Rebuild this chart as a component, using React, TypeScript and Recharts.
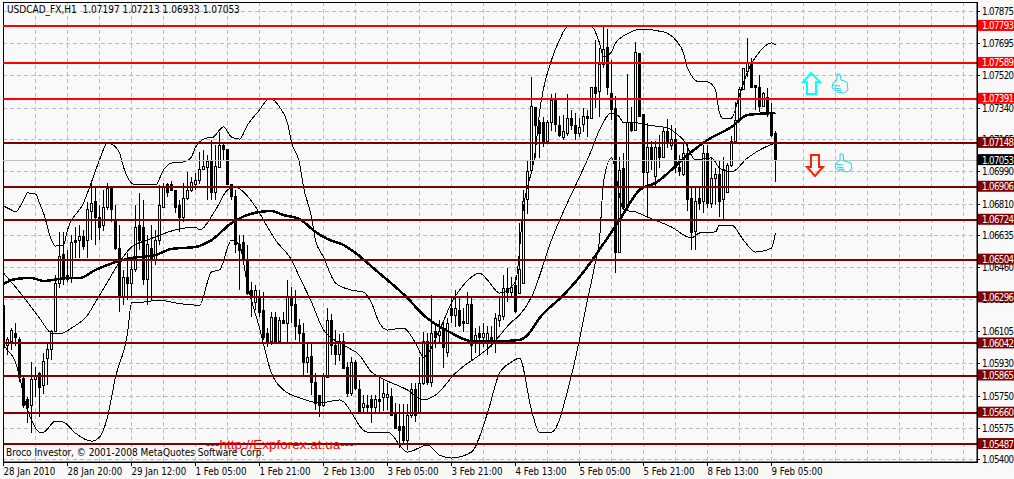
import React from "react";
import { ComposedChart, Bar, Line, XAxis, YAxis, CartesianGrid, ReferenceLine, ReferenceArea } from "recharts";

const symbolText = "USDCAD_FX,H1  1.07197 1.07213 1.06933 1.07053";
const copyrightText = "Broco Investor, © 2001-2008 MetaQuotes Software Corp.";
const siteText = "---http://Expforex.at.ua---";

const timeLabels = [
  "28 Jan 2010", "28 Jan 20:00", "29 Jan 12:00", "1 Feb 05:00", "1 Feb 21:00", "2 Feb 13:00", "3 Feb 05:00",
  "3 Feb 21:00", "4 Feb 13:00", "5 Feb 05:00", "5 Feb 21:00", "8 Feb 13:00", "9 Feb 05:00",
];

const priceTicks = [
  1.07875, 1.07695, 1.0752, 1.0734, 1.07165, 1.0699, 1.0681, 1.06635, 1.0646, 1.06285, 1.06105, 1.0593, 1.0575,
  1.05575, 1.054,
];

const redLevels = [1.07793, 1.07589, 1.07391];
const maroonLevels = [1.07148, 1.06906, 1.06724, 1.06504, 1.06296, 1.06042, 1.05865, 1.0566, 1.05487];
const lastPrice = 1.07053;

const opens = [
  1.06253, 1.06028, 1.06055, 1.06099, 1.06066, 1.05851, 1.05735, 1.05697, 1.05845, 1.05878,
  1.05812, 1.05961, 1.06011, 1.0611, 1.06375, 1.0653, 1.06414, 1.06403, 1.06612, 1.06612,
  1.06634, 1.06612, 1.06772, 1.06822, 1.06734, 1.06695, 1.06794, 1.06905, 1.06723, 1.06568,
  1.06298, 1.06403, 1.06375, 1.06447, 1.06695, 1.06679, 1.06392, 1.06568, 1.06502, 1.06612,
  1.06794, 1.06916, 1.06916, 1.06883, 1.068, 1.06739, 1.06839, 1.06883, 1.06921, 1.06938,
  1.06999, 1.0701, 1.07043, 1.06877, 1.0701, 1.07131, 1.07114, 1.06921, 1.0685, 1.06585,
  1.06596, 1.06502, 1.06336, 1.06265, 1.06292, 1.06226, 1.06099, 1.06055, 1.06187, 1.06055,
  1.06171, 1.06154, 1.06303, 1.06259, 1.06143, 1.06099, 1.05939, 1.05972, 1.05829, 1.05757,
  1.05702, 1.05856, 1.06171, 1.06033, 1.05983, 1.06055, 1.05911, 1.05768, 1.05939, 1.0579,
  1.05686, 1.05702, 1.0573, 1.05686, 1.05735, 1.05741, 1.05746, 1.05752, 1.05658, 1.05586,
  1.05586, 1.05509, 1.05647, 1.0579, 1.05658, 1.05823, 1.0605, 1.05829, 1.06105, 1.06083,
  1.06116, 1.05994, 1.06237, 1.06198, 1.06226, 1.06165, 1.06154, 1.06259, 1.06044, 1.06094,
  1.06077, 1.06044, 1.06077, 1.0605, 1.06171, 1.06193, 1.06347, 1.06325, 1.06364, 1.0632,
  1.06375, 1.06833, 1.06993, 1.07341, 1.07263, 1.07263, 1.07158, 1.07258, 1.0739, 1.07246,
  1.0718, 1.07202, 1.07285, 1.07246, 1.07202, 1.07252, 1.07291, 1.07285, 1.07456, 1.07429,
  1.07578, 1.07672, 1.07418, 1.07335, 1.06546, 1.07004, 1.068, 1.07263, 1.07219, 1.07639,
  1.07302, 1.06982, 1.0712, 1.0696, 1.07125, 1.0707, 1.07213, 1.07136, 1.07169, 1.0701,
  1.06971, 1.07087, 1.06839, 1.06657, 1.06839, 1.06822, 1.07092, 1.06816, 1.06954, 1.06971,
  1.06833, 1.06877, 1.07026, 1.07153, 1.07274, 1.07445, 1.07539, 1.07588, 1.07467, 1.07456,
  1.07346, 1.07401, 1.07313, 1.07197,
];

const highs = [
  1.06253, 1.06077, 1.06127, 1.06154, 1.06077, 1.05856, 1.05746, 1.05939, 1.05911, 1.05884,
  1.05988, 1.0605, 1.06116, 1.06419, 1.06657, 1.06657, 1.06557, 1.0664, 1.06684, 1.06695,
  1.06668, 1.06822, 1.06943, 1.06905, 1.06805, 1.06888, 1.06927, 1.06905, 1.06805, 1.06695,
  1.06447, 1.06541, 1.06502, 1.06805, 1.06872, 1.06833, 1.0664, 1.06695, 1.06668, 1.06916,
  1.06927, 1.06927, 1.06938, 1.06883, 1.06833, 1.06927, 1.06988, 1.0696, 1.06982, 1.07098,
  1.07109, 1.07081, 1.07164, 1.07136, 1.07208, 1.07147, 1.07114, 1.06921, 1.06888, 1.0664,
  1.0664, 1.06585, 1.06381, 1.06364, 1.06336, 1.06325, 1.06127, 1.06215, 1.06215, 1.06187,
  1.06215, 1.06392, 1.06353, 1.06336, 1.06176, 1.06154, 1.06044, 1.06044, 1.05878, 1.05757,
  1.05878, 1.06237, 1.06204, 1.06116, 1.06094, 1.06099, 1.05939, 1.05967, 1.0595, 1.0584,
  1.05757, 1.05757, 1.05757, 1.05757, 1.05862, 1.05845, 1.05823, 1.05796, 1.05713, 1.05708,
  1.05708, 1.05708, 1.05823, 1.05823, 1.05967, 1.06105, 1.06099, 1.06309, 1.06154, 1.06171,
  1.06165, 1.06182, 1.06298, 1.06336, 1.06292, 1.06237, 1.06325, 1.06292, 1.06127, 1.06138,
  1.06154, 1.06138, 1.06138, 1.06209, 1.06303, 1.06419, 1.06458, 1.06408, 1.06408, 1.06706,
  1.06888, 1.07054, 1.07512, 1.07346, 1.07274, 1.07291, 1.07274, 1.07418, 1.07423, 1.07296,
  1.07302, 1.07418, 1.0733, 1.07313, 1.07285, 1.07341, 1.0733, 1.07456, 1.07716, 1.07672,
  1.07788, 1.07776, 1.07605, 1.07407, 1.0707, 1.07092, 1.07528, 1.07346, 1.07705, 1.07639,
  1.07302, 1.07258, 1.07158, 1.07158, 1.07191, 1.0723, 1.0728, 1.07246, 1.0723, 1.07081,
  1.07147, 1.07147, 1.06899, 1.06899, 1.06899, 1.07136, 1.07136, 1.0707, 1.0701, 1.07054,
  1.0707, 1.07037, 1.07186, 1.07374, 1.07456, 1.07561, 1.07727, 1.07616, 1.07467, 1.07522,
  1.07429, 1.07451, 1.07368, 1.07213,
];

const lows = [
  1.05994, 1.05977, 1.06005, 1.06028, 1.05829, 1.05686, 1.05602, 1.05547, 1.05746, 1.05636,
  1.05763, 1.05812, 1.0595, 1.06105, 1.06347, 1.06364, 1.06381, 1.06375, 1.06513, 1.06513,
  1.06557, 1.06513, 1.06612, 1.06585, 1.06612, 1.06662, 1.06778, 1.06712, 1.06557, 1.06215,
  1.06253, 1.06281, 1.06292, 1.06436, 1.06557, 1.06364, 1.06253, 1.06281, 1.06474, 1.06585,
  1.06789, 1.0685, 1.06888, 1.06761, 1.06657, 1.06712, 1.06833, 1.06877, 1.06888, 1.06921,
  1.06999, 1.06833, 1.06833, 1.06833, 1.0701, 1.07054, 1.06916, 1.06833, 1.06541, 1.06336,
  1.06491, 1.06309, 1.06187, 1.06226, 1.06187, 1.06061, 1.06022, 1.06033, 1.06044, 1.06044,
  1.06154, 1.06044, 1.06154, 1.06061, 1.06044, 1.05867, 1.05878, 1.05757, 1.05674, 1.05636,
  1.05691, 1.05856, 1.05977, 1.05922, 1.05944, 1.05906, 1.05746, 1.05752, 1.05785, 1.05658,
  1.05658, 1.05658, 1.05602, 1.05658, 1.05658, 1.05669, 1.05674, 1.05641, 1.05575, 1.05465,
  1.05493, 1.05454, 1.0563, 1.05608, 1.05658, 1.05812, 1.05812, 1.05801, 1.06017, 1.06044,
  1.05906, 1.05967, 1.06154, 1.06132, 1.06132, 1.06105, 1.06154, 1.0595, 1.05988, 1.05977,
  1.06022, 1.05977, 1.06022, 1.05988, 1.06132, 1.06171, 1.0627, 1.06298, 1.06209, 1.0632,
  1.06375, 1.06756, 1.06993, 1.07065, 1.07065, 1.07125, 1.07147, 1.07213, 1.07208, 1.0718,
  1.07164, 1.07186, 1.07219, 1.07164, 1.0718, 1.07208, 1.0718, 1.07285, 1.07341, 1.07291,
  1.07561, 1.07412, 1.07274, 1.0643, 1.06546, 1.06778, 1.06778, 1.07208, 1.07219, 1.07296,
  1.06905, 1.06745, 1.06999, 1.06905, 1.0701, 1.07065, 1.0712, 1.07109, 1.06982, 1.06965,
  1.06965, 1.06772, 1.06557, 1.06557, 1.06778, 1.06761, 1.06789, 1.06789, 1.06805, 1.06739,
  1.06723, 1.06872, 1.07015, 1.07147, 1.07263, 1.0744, 1.07512, 1.07451, 1.0733, 1.07319,
  1.07346, 1.07291, 1.0718, 1.06933,
];

const closes = [
  1.06022, 1.06066, 1.06116, 1.06077, 1.05856, 1.05702, 1.05686, 1.05845, 1.05867, 1.05801,
  1.05944, 1.06011, 1.0611, 1.0637, 1.06524, 1.06397, 1.06397, 1.06596, 1.06596, 1.06634,
  1.06579, 1.06778, 1.06816, 1.06734, 1.06679, 1.06789, 1.06899, 1.06778, 1.06568, 1.06298,
  1.06403, 1.06375, 1.06447, 1.06684, 1.06612, 1.06392, 1.06585, 1.06502, 1.06612, 1.068,
  1.06905, 1.06877, 1.06888, 1.06794, 1.06739, 1.06839, 1.06883, 1.06927, 1.06943, 1.06999,
  1.07015, 1.07043, 1.06872, 1.07015, 1.07131, 1.07109, 1.06916, 1.0685, 1.06585, 1.06557,
  1.06513, 1.0632, 1.06303, 1.06336, 1.06215, 1.06077, 1.06055, 1.06187, 1.0605, 1.06171,
  1.06154, 1.06303, 1.06253, 1.06138, 1.06099, 1.05939, 1.05967, 1.05829, 1.05713, 1.05697,
  1.05867, 1.06171, 1.06033, 1.05983, 1.06055, 1.05906, 1.05768, 1.05939, 1.05796, 1.05664,
  1.05708, 1.05686, 1.05686, 1.0573, 1.05724, 1.05768, 1.05763, 1.05647, 1.05575, 1.05564,
  1.05509, 1.05647, 1.0579, 1.05647, 1.05823, 1.0605, 1.05829, 1.06099, 1.06077, 1.0611,
  1.06017, 1.06154, 1.06198, 1.06237, 1.06143, 1.06154, 1.06259, 1.06033, 1.06088, 1.06077,
  1.06099, 1.06099, 1.06044, 1.06182, 1.06198, 1.06347, 1.06325, 1.06353, 1.0622, 1.06447,
  1.06827, 1.06988, 1.07346, 1.07246, 1.07202, 1.07158, 1.07258, 1.07379, 1.07252, 1.07186,
  1.07213, 1.07285, 1.07246, 1.07202, 1.07235, 1.07291, 1.07285, 1.07451, 1.07423, 1.07578,
  1.07661, 1.07451, 1.0733, 1.06546, 1.06993, 1.06794, 1.07263, 1.07219, 1.07644, 1.07296,
  1.06982, 1.0712, 1.07054, 1.0712, 1.07065, 1.07213, 1.07147, 1.07169, 1.0701, 1.06988,
  1.07087, 1.06833, 1.06651, 1.06822, 1.06816, 1.07087, 1.06811, 1.06954, 1.06971, 1.06827,
  1.06999, 1.07026, 1.07153, 1.07274, 1.07445, 1.07556, 1.07588, 1.07456, 1.07456, 1.07346,
  1.07423, 1.07302, 1.07186, 1.07053,
];

// [bar number, price] read where each curve bends
const upperBand = [
  [0, 1.068], [2, 1.06778], [3, 1.06767], [5, 1.06833], [6, 1.06872], [8, 1.06866], [9, 1.06816], [10, 1.06761],
  [12, 1.06612], [13, 1.06579], [15, 1.06585], [16, 1.06668], [20, 1.06816], [22, 1.06932], [24, 1.07054],
  [26, 1.07147], [27, 1.07142], [29, 1.07092], [30, 1.07015], [33, 1.06916], [38, 1.06916], [40, 1.06999],
  [42, 1.07037], [45, 1.07043], [47, 1.0707], [48, 1.07125], [51, 1.07175], [52, 1.07175], [55, 1.07236],
  [57, 1.0718], [59, 1.07169], [61, 1.07246], [64, 1.0733], [66, 1.07385], [67, 1.0739], [69, 1.07346],
  [71, 1.07258], [72, 1.07153], [74, 1.07037], [75, 1.06905], [77, 1.06739], [78, 1.06612], [80, 1.06518],
  [83, 1.06375], [87, 1.06336], [90, 1.06325], [92, 1.06265], [94, 1.06154], [96, 1.06116], [100, 1.06127],
  [103, 1.06044], [105, 1.05967], [109, 1.06116], [112, 1.06265], [114, 1.06336], [117, 1.06408], [119, 1.0643],
  [121, 1.06392], [124, 1.0632], [128, 1.06381], [130, 1.06794], [133, 1.07109], [134, 1.07313], [137, 1.07605],
  [139, 1.07716], [141, 1.07788], [147, 1.07788], [149, 1.07699], [150, 1.07622], [152, 1.0765], [153, 1.07699],
  [157, 1.0776], [159, 1.07776], [165, 1.0776], [168, 1.07716], [170, 1.07644], [171, 1.07561], [174, 1.07484],
  [176, 1.07484], [178, 1.0744], [179, 1.07313], [180, 1.0728], [182, 1.07285], [184, 1.07412], [186, 1.07539],
  [189, 1.0765], [192, 1.07699], [193, 1.07688],
];

const middleBand = [
  [0, 1.0643], [3, 1.06353], [6, 1.0627], [9, 1.06182], [12, 1.06099], [14, 1.06094], [17, 1.06127], [21, 1.06198],
  [23, 1.0627], [26, 1.06381], [29, 1.06491], [32, 1.06574], [36, 1.06612], [43, 1.06668], [48, 1.06684],
  [49, 1.06668], [53, 1.06778], [56, 1.06888], [58, 1.06905], [60, 1.06877], [64, 1.06761], [66, 1.06684],
  [68, 1.06612], [72, 1.06502], [74, 1.06408], [77, 1.0627], [80, 1.06116], [85, 1.06033], [89, 1.05977],
  [92, 1.05884], [94, 1.05856], [101, 1.05785], [105, 1.0573], [108, 1.05757], [113, 1.05878], [122, 1.06033],
  [127, 1.0616], [129, 1.06198], [132, 1.06298], [137, 1.06612], [147, 1.07109], [149, 1.07219], [152, 1.07313],
  [154, 1.07291], [155, 1.07258], [157, 1.07263], [161, 1.07246], [166, 1.0723], [168, 1.07202], [170, 1.07164],
  [173, 1.07054], [177, 1.07065], [179, 1.0701], [182, 1.06988], [186, 1.07065], [190, 1.0712], [193, 1.07147],
];

const lowerBand = [
  [0, 1.06033], [1, 1.06005], [3, 1.05939], [4, 1.05856], [6, 1.05674], [7, 1.05619], [9, 1.05553], [10, 1.05553],
  [13, 1.05614], [15, 1.05608], [18, 1.05547], [22, 1.05503], [24, 1.05525], [26, 1.05636], [28, 1.05856],
  [31, 1.06099], [32, 1.06265], [35, 1.0627], [39, 1.06281], [43, 1.06265], [49, 1.06253], [52, 1.06436],
  [54, 1.06447], [57, 1.06612], [59, 1.06585], [61, 1.06364], [64, 1.06127], [67, 1.05878], [70, 1.05785],
  [75, 1.05735], [79, 1.05713], [84, 1.0573], [91, 1.05553], [96, 1.05553], [101, 1.05443], [106, 1.05481],
  [109, 1.05426], [112, 1.0541], [117, 1.05443], [121, 1.05658], [124, 1.05878], [127, 1.05939], [129, 1.05961],
  [132, 1.05674], [134, 1.05553], [137, 1.05553], [142, 1.05867], [146, 1.06281], [148, 1.06491], [149, 1.06612],
  [150, 1.06932], [152, 1.07065], [155, 1.06778], [158, 1.06767], [161, 1.06739], [167, 1.06684], [172, 1.06624],
  [174, 1.06651], [178, 1.06657], [179, 1.06695], [182, 1.06695], [185, 1.06612], [188, 1.06546], [192, 1.06568],
  [193, 1.06651],
];

const movingAverage = [
  [0, 1.0637], [3, 1.06397], [7, 1.06403], [10, 1.06386], [16, 1.06403], [19, 1.06403], [23, 1.06447], [29, 1.06497],
  [32, 1.06513], [38, 1.0653], [42, 1.06563], [48, 1.06574], [52, 1.06612], [57, 1.06706], [64, 1.06767],
  [67, 1.06772], [70, 1.0675], [74, 1.06728], [78, 1.06657], [81, 1.06618], [85, 1.06585], [88, 1.06541],
  [93, 1.06447], [101, 1.06292], [105, 1.06198], [112, 1.06099], [117, 1.06055], [124, 1.06055], [129, 1.06061],
  [131, 1.06088], [134, 1.06182], [140, 1.06309], [144, 1.06408], [151, 1.06624], [154, 1.06723], [159, 1.06888],
  [163, 1.06927], [171, 1.07081], [176, 1.07164], [182, 1.07236], [186, 1.07302], [193, 1.07313],
];

const lookup = (knots: number[][]) => new Map(knots.map(([bar, price]) => [bar, price]));
const upperByBar = lookup(upperBand);
const middleByBar = lookup(middleBand);
const lowerByBar = lookup(lowerBand);
const maByBar = lookup(movingAverage);

const chartData = opens.map((open, bar) => ({
  bar,
  open,
  high: highs[bar],
  low: lows[bar],
  close: closes[bar],
  upper: upperByBar.get(bar) ?? null,
  middle: middleByBar.get(bar) ?? null,
  lower: lowerByBar.get(bar) ?? null,
  ma: maByBar.get(bar) ?? null,
}));

const barsPerLabel = 16;
const barsPerGridLine = 8;
const gridBars = Array.from({ length: 31 }, (_, k) => k * barsPerGridLine);
const labelBars = timeLabels.map((_, k) => k * barsPerLabel);

const levelColor = new Map<number, string>([
  ...redLevels.map((v) => [v, "#ff0000"] as [number, string]),
  ...maroonLevels.map((v) => [v, "#800000"] as [number, string]),
  [lastPrice, "#000000"],
]);

const font = '"DejaVu Sans Condensed", "Liberation Sans", Arial, sans-serif';
const axisX = 977;
const axisY = 462;

function Candle(props: any) {
  const { x, y, width, height, payload } = props;
  const cx = Math.floor(x + width / 2) + 0.5;
  const perPrice = height / (payload.high - payload.low || 1);
  const top = y + (payload.high - Math.max(payload.open, payload.close)) * perPrice;
  const bottom = y + (payload.high - Math.min(payload.open, payload.close)) * perPrice;
  const up = payload.close >= payload.open;
  return (
    <g shapeRendering="crispEdges">
      <line x1={cx} x2={cx} y1={y} y2={y + height} stroke="#000" />
      <rect x={cx - 1} y={top} width={2} height={Math.max(bottom - top, 1)} fill={up ? "#fff" : "#000"} stroke="#000" />
    </g>
  );
}

function PriceTick({ y, payload }: any) {
  const color = levelColor.get(payload.value);
  if (color) {
    return (
      <g>
        <rect x={axisX + 1} y={y - 6} width={40} height={11} fill={color} />
        <text x={axisX + 5} y={y + 3.5} fontSize={9.6} letterSpacing={-0.6} fontFamily={font} fill="#fff">
          {payload.value.toFixed(5)}
        </text>
      </g>
    );
  }
  return (
    <g>
      <line x1={axisX} x2={axisX + 3} y1={y} y2={y} stroke="#000" shapeRendering="crispEdges" />
      <text x={axisX + 5} y={y + 3.5} fontSize={9.6} letterSpacing={-0.6} fontFamily={font} fill="#000">
        {payload.value.toFixed(5)}
      </text>
    </g>
  );
}

function TimeTick({ x, payload }: any) {
  return (
    <g>
      <line x1={x} x2={x} y1={axisY} y2={axisY + 4} stroke="#000" shapeRendering="crispEdges" />
      <text x={x} y={axisY + 13} fontSize={9.6} fontFamily={font} fill="#000">
        {timeLabels[payload.value / barsPerLabel]}
      </text>
    </g>
  );
}

function Annotations() {
  return (
    <svg width={1014} height={479} style={{ position: "absolute", left: 0, top: 0, pointerEvents: "none" }}>
      <path d="M811 73 L820 82 L816 82 L816 94 L807 94 L807 82 L803 82 Z" fill="none" stroke="#00ffff" strokeWidth={2} />
      <path d="M811 155 L819 155 L819 167 L823 167 L815 176 L807 167 L811 167 Z" fill="none" stroke="#ff2000" strokeWidth={2} />
      <g fill="none" stroke="#20d8e8" strokeWidth={1}>
        <path d="M837 74 L840 74 L841 80 L847 82 L848 90 L844 93 L837 92 L832 88 L833 83 L837 80 Z" />
        <path d="M833 85 L840 86 M834 88 L841 89 M836 90 L842 91" />
        <path d="M840 154 L843 154 L844 161 L851 163 L852 169 L848 172 L841 171 L835 168 L836 163 L840 160 Z" />
        <path d="M836 164 L843 165 M837 167 L844 168 M839 169 L845 170" />
      </g>
    </svg>
  );
}

const overlayText: React.CSSProperties = {
  position: "absolute",
  fontFamily: font,
  whiteSpace: "pre",
  pointerEvents: "none",
};

export default function App() {
  return (
    <div style={{ position: "absolute", left: 0, top: 0, width: 1014, height: 479, overflow: "hidden", background: "#f9f9f9" }}>
      <ComposedChart width={1014} height={479} data={chartData} margin={{ top: 2, right: 0, bottom: 0, left: 3 }}>
        <CartesianGrid
          stroke="#bdbdbd"
          strokeDasharray="4 3"
          horizontalValues={priceTicks}
          verticalValues={gridBars}
          shapeRendering="crispEdges"
        />
        <XAxis
          dataKey="bar"
          type="number"
          domain={[-0.125, 243.375]}
          allowDataOverflow
          ticks={labelBars}
          interval={0}
          height={17}
          tick={<TimeTick />}
          tickLine={false}
          axisLine={{ stroke: "#000" }}
        />
        <YAxis
          orientation="right"
          type="number"
          domain={[1.05388, 1.07925]}
          allowDataOverflow
          ticks={[...priceTicks, ...redLevels, ...maroonLevels, lastPrice]}
          interval={0}
          width={37}
          tick={<PriceTick />}
          tickLine={false}
          axisLine={{ stroke: "#000" }}
        />
        <ReferenceArea x1={-0.125} x2={243.375} y1={1.05388} y2={1.07925} fill="none" stroke="#000" shapeRendering="crispEdges" />
        <Bar dataKey={(d: any) => [d.low, d.high]} barSize={3} shape={<Candle />} isAnimationActive={false} />
        <Line type="monotone" dataKey="upper" stroke="#000" strokeWidth={1} dot={false} connectNulls isAnimationActive={false} shapeRendering="crispEdges" />
        <Line type="monotone" dataKey="middle" stroke="#000" strokeWidth={1} dot={false} connectNulls isAnimationActive={false} shapeRendering="crispEdges" />
        <Line type="monotone" dataKey="lower" stroke="#000" strokeWidth={1} dot={false} connectNulls isAnimationActive={false} shapeRendering="crispEdges" />
        <Line type="monotone" dataKey="ma" stroke="#000" strokeWidth={2.5} dot={false} connectNulls isAnimationActive={false} shapeRendering="crispEdges" />
        <ReferenceLine y={lastPrice} stroke="#c0c0c0" shapeRendering="crispEdges" />
        {redLevels.map((v) => (
          <ReferenceLine key={v} y={v} stroke="#ff0000" strokeWidth={2} shapeRendering="crispEdges" />
        ))}
        {maroonLevels.map((v) => (
          <ReferenceLine key={v} y={v} stroke="#800000" strokeWidth={2} shapeRendering="crispEdges" />
        ))}
      </ComposedChart>
      <Annotations />
      <div style={{ ...overlayText, left: 7, top: 4, fontSize: 10 }}>{symbolText}</div>
      <div style={{ ...overlayText, left: 6, top: 447, fontSize: 10 }}>{copyrightText}</div>
      <div style={{ ...overlayText, left: 206, top: 437, fontSize: 13.5, color: "#ff0000", fontFamily: '"Liberation Sans", Arial, sans-serif' }}>{siteText}</div>
    </div>
  );
}
